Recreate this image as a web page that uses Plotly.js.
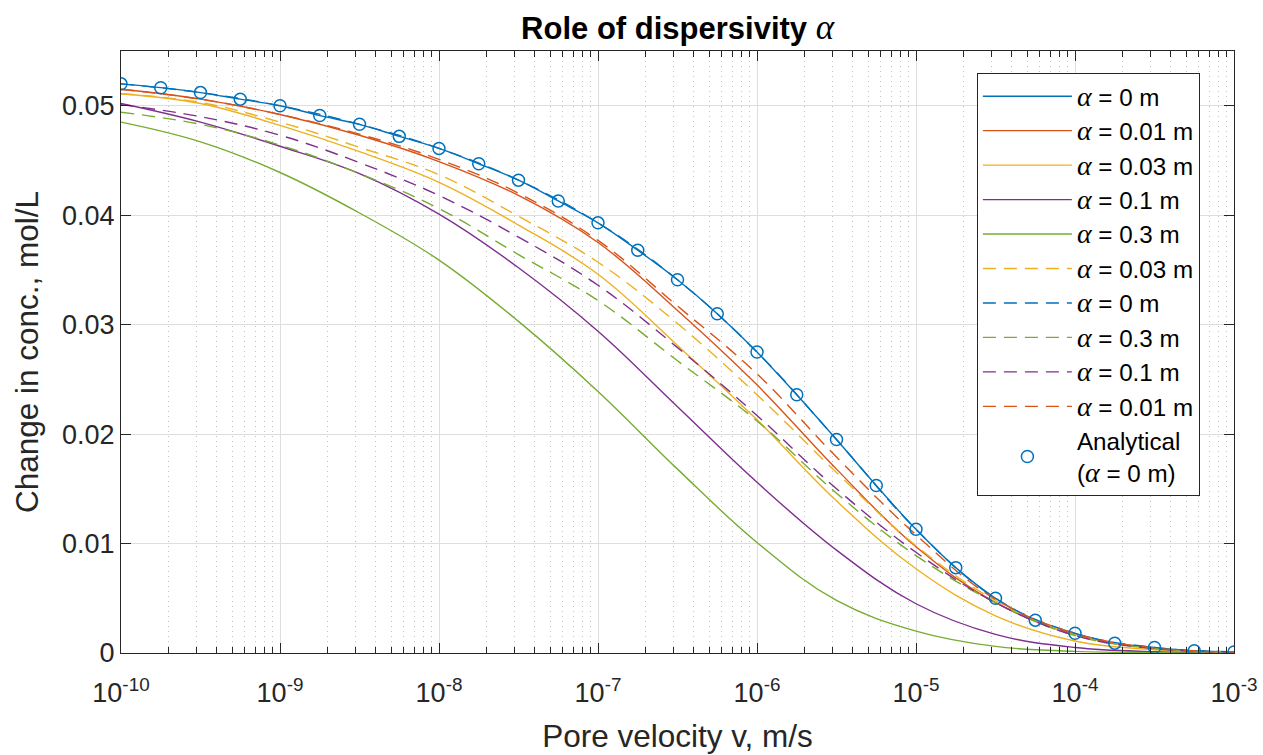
<!DOCTYPE html>
<html>
<head>
<meta charset="utf-8">
<script src="https://cdn.plot.ly/plotly-3.0.1.min.js"></script>
<style>
  html, body { margin: 0; padding: 0; background: #fff; }
  #chart { width: 1263px; height: 755px; }
</style>
</head>
<body>
<div id="chart"></div>
<script>
// Pore velocity exponents (log10 of v, m/s)
const expHalf = [-10, -9.5, -9, -8.5, -8, -7.5, -7, -6.5, -6, -5.5, -5, -4.5, -4, -3.5, -3];
const expQuarter = [-10, -9.75, -9.5, -9.25, -9, -8.75, -8.5, -8.25, -8, -7.75, -7.5, -7.25, -7,
  -6.75, -6.5, -6.25, -6, -5.75, -5.5, -5.25, -5, -4.75, -4.5, -4.25, -4, -3.75, -3.5, -3.25, -3];

// Change in concentration, mol/L
const alpha0Solid = [0.0520, 0.05165, 0.0512, 0.0506, 0.0500, 0.0491, 0.0483, 0.0472, 0.0461, 0.0447,
  0.0432, 0.0413, 0.0393, 0.0368, 0.0341, 0.0310, 0.0275, 0.0236, 0.0195, 0.0153, 0.0113, 0.0078,
  0.0050, 0.0030, 0.0018, 0.0009, 0.0005, 0.0002, 0.0001];
const alpha001Solid = [0.0515, 0.0506, 0.0492, 0.0473, 0.0449, 0.0418, 0.0375, 0.0313, 0.0245, 0.0168, 0.0097, 0.0046, 0.0017, 0.0004, 0.0001];
const alpha003Solid = [0.0511, 0.0502, 0.0482, 0.0458, 0.0430, 0.0391, 0.0346, 0.0281, 0.0213, 0.0139, 0.0077, 0.0034, 0.0011, 0.0003, 0.00005];
const alpha01Solid  = [0.0502, 0.0485, 0.0463, 0.0438, 0.0401, 0.0352, 0.0294, 0.0225, 0.0156, 0.0094, 0.0045, 0.0017, 0.0005, 0.00012, 0.00002];
const alpha03Solid  = [0.0485, 0.0467, 0.0439, 0.0402, 0.0359, 0.0303, 0.0239, 0.0168, 0.0101, 0.0048, 0.0020, 0.0006, 0.00015, 0.00003, 0.0];

const alpha003Dash = [0.0511, 0.0503, 0.0485, 0.0462, 0.0437, 0.0399, 0.0357, 0.0301, 0.0236, 0.0165, 0.0098, 0.0048, 0.0017, 0.0004, 0.0001];
const alpha0Dash   = [0.0520, 0.0512, 0.0500, 0.0483, 0.0461, 0.0432, 0.0393, 0.0341, 0.0275, 0.0195, 0.0113, 0.0050, 0.0018, 0.0005, 0.0001];
const alpha03Dash  = [0.0494, 0.0483, 0.0464, 0.0438, 0.0406, 0.0364, 0.0322, 0.0267, 0.0212, 0.0146, 0.0089, 0.0046, 0.0016, 0.0004, 0.0001];
const alpha01Dash  = [0.0501, 0.0490, 0.0473, 0.0448, 0.0418, 0.0380, 0.0336, 0.0279, 0.0217, 0.0150, 0.0092, 0.0046, 0.0016, 0.0004, 0.0001];
const alpha001Dash = [0.0515, 0.0506, 0.0492, 0.0474, 0.0451, 0.0420, 0.0377, 0.0317, 0.0255, 0.0179, 0.0108, 0.0049, 0.0018, 0.00045, 0.0001];

// Analytical solution for zero dispersivity
const analytical = alpha0Solid.slice();

// Decade tick labels
const decadeVals = [1e-10, 1e-9, 1e-8, 1e-7, 1e-6, 1e-5, 1e-4, 1e-3];
const decadeText = ['10<sup>-10</sup>', '10<sup>-9</sup>', '10<sup>-8</sup>', '10<sup>-7</sup>',
  '10<sup>-6</sup>', '10<sup>-5</sup>', '10<sup>-4</sup>', '10<sup>-3</sup>'];
const yTickVals = [0, 0.01, 0.02, 0.03, 0.04, 0.05];
const yTickText = ['0', '0.01', '0.02', '0.03', '0.04', '0.05'];

const colors = { blue: '#0072BD', red: '#D95319', yellow: '#EDB120', purple: '#7E2F8E', green: '#77AC30' };

const toV = e => e.map(p => Math.pow(10, p));
const SANS = 'Liberation Sans, Arial, sans-serif';
const alphaSym = size => '<span style="font-family:\'Liberation Serif\';font-size:' + size + 'px"><i>α</i></span>';
const A = alphaSym(28);

function line(name, ex, y, color, dashed) {
  return {
    type: 'scatter', mode: 'lines', name: name, legendgroup: name + (dashed ? 'd' : 's'),
    x: toV(ex), y: y,
    line: { color: color, width: 1.4, shape: 'spline', smoothing: 1.1, dash: dashed ? '13px,8px' : 'solid' },
    hoverinfo: 'skip'
  };
}

const traces = [
  line(A + ' = 0 m', expQuarter, alpha0Solid, colors.blue, false),
  line(A + ' = 0.01 m', expHalf, alpha001Solid, colors.red, false),
  line(A + ' = 0.03 m', expHalf, alpha003Solid, colors.yellow, false),
  line(A + ' = 0.1 m', expHalf, alpha01Solid, colors.purple, false),
  line(A + ' = 0.3 m', expHalf, alpha03Solid, colors.green, false),
  line(A + ' = 0.03 m', expHalf, alpha003Dash, colors.yellow, true),
  line(A + ' = 0 m', expHalf, alpha0Dash, colors.blue, true),
  line(A + ' = 0.3 m', expHalf, alpha03Dash, colors.green, true),
  line(A + ' = 0.1 m', expHalf, alpha01Dash, colors.purple, true),
  line(A + ' = 0.01 m', expHalf, alpha001Dash, colors.red, true),
  {
    type: 'scatter', mode: 'markers', name: 'Analytical<br>(' + A + ' = 0 m)', legendgroup: 'an',
    x: toV(expQuarter), y: analytical,
    marker: { symbol: 'circle-open', size: 12, color: colors.blue, line: { color: colors.blue, width: 1.5 } },
    hoverinfo: 'skip'
  }
];

const tickFont = { family: SANS, size: 27, color: '#262626' };
const labelFont = { family: SANS, size: 31.5, color: '#262626' };

const layout = {
  width: 1263, height: 755,
  margin: { l: 121, r: 29, t: 51, b: 102 },
  paper_bgcolor: '#fff', plot_bgcolor: '#fff',
  font: tickFont,
  title: {
    text: '<b>Role of dispersivity </b>' + alphaSym(35),
    font: { family: SANS, size: 31, color: '#000' },
    x: 0.5365, xanchor: 'center', y: 0.963, yanchor: 'middle'
  },
  xaxis: {
    type: 'log', range: [-10, -3],
    tickmode: 'array', tickvals: decadeVals, ticktext: decadeText,
    ticks: 'inside', ticklen: 10, tickcolor: '#262626', tickwidth: 1,
    ticklabelstandoff: 16,
    showline: true, linecolor: '#262626', linewidth: 1, mirror: 'ticks',
    showgrid: true, gridcolor: '#dedede', gridwidth: 1,
    zeroline: false,
    tickfont: tickFont,
    minor: { dtick: 'D1', ticks: 'inside', ticklen: 6, tickcolor: '#262626', showgrid: true, gridcolor: '#c2c2c2', griddash: '1px,4px', gridwidth: 1 },
    title: { text: 'Pore velocity v, m/s', font: labelFont, standoff: 17 }
  },
  yaxis: {
    range: [0, 0.055],
    tickmode: 'array', tickvals: yTickVals, ticktext: yTickText,
    ticks: 'inside', ticklen: 10, tickcolor: '#262626', tickwidth: 1,
    showline: true, linecolor: '#262626', linewidth: 1, mirror: 'ticks',
    showgrid: true, gridcolor: '#dedede', gridwidth: 1,
    zeroline: false,
    tickfont: tickFont,
    title: { text: 'Change in conc., mol/L', font: labelFont, standoff: 14 }
  },
  showlegend: true,
  legend: {
    x: 0.769, y: 0.9635, xanchor: 'left', yanchor: 'top',
    bgcolor: '#fff', bordercolor: '#262626', borderwidth: 1,
    font: { family: SANS, size: 24.2, color: '#000' },
    itemwidth: 89, tracegroupgap: 0, traceorder: 'grouped',
    itemclick: false, itemdoubleclick: false
  }
};

Plotly.newPlot('chart', traces, layout, { displayModeBar: false, staticPlot: true });
</script>
</body>
</html>
